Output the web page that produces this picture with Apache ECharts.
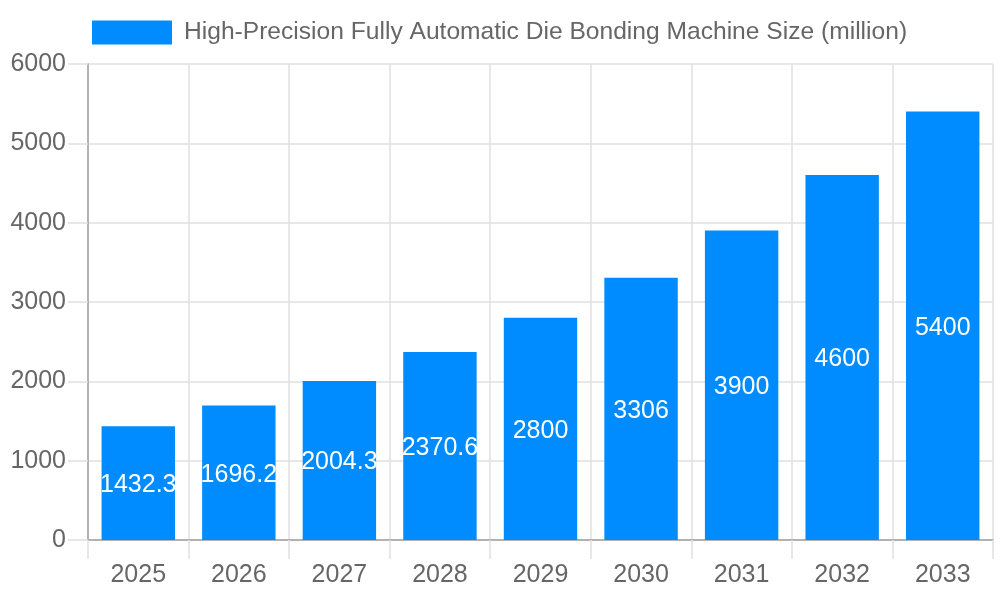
<!DOCTYPE html>
<html>
<head>
<meta charset="utf-8">
<script src="https://cdn.jsdelivr.net/npm/echarts@6/dist/echarts.min.js"></script>
<style>html,body{margin:0;padding:0;background:#fff}#c{width:1000px;height:600px}</style>
</head>
<body>
<div id="c"></div>
<script>
const categories = ['2025','2026','2027','2028','2029','2030','2031','2032','2033'];
const sizeValues = [1432.3, 1696.2, 2004.3, 2370.6, 2800, 3306, 3900, 4600, 5400];
const seriesName = 'High-Precision Fully Automatic Die Bonding Machine Size (million)';

const chart = echarts.init(document.getElementById('c'), null, {renderer: 'canvas'});
const font = 'Liberation Sans, Arial, sans-serif';
chart.setOption({
  animation: false,
  textStyle: {fontFamily: font},
  legend: {
    left: 92, top: 20, padding: 0,
    itemWidth: 80, itemHeight: 24, itemGap: 10,
    icon: 'rect',
    textStyle: {fontSize: 24.6, color: '#666', fontFamily: font, padding: [0,0,0,7]},
    data: [seriesName]
  },
  grid: {left: 88, right: 7, top: 64, bottom: 60, containLabel: false},
  xAxis: {
    type: 'category',
    data: categories,
    boundaryGap: true,
    axisLine: {show: true, lineStyle: {color: '#a0a0a0', width: 1.5}},
    axisTick: {show: true, length: 19, lineStyle: {color: '#e0e0e0', width: 1.5}},
    axisLabel: {fontSize: 25, color: '#666', margin: 23, fontFamily: font},
    splitLine: {show: true, lineStyle: {color: '#e0e0e0', width: 1.5}}
  },
  yAxis: {
    type: 'value',
    min: 0, max: 6000, interval: 1000,
    axisLine: {show: true, lineStyle: {color: '#a0a0a0', width: 1.5}},
    axisTick: {show: true, length: 20, lineStyle: {color: '#e0e0e0', width: 1.5}},
    axisLabel: {fontSize: 25, color: '#666', margin: 22, fontFamily: font, formatter: v => String(v)},
    splitLine: {show: true, lineStyle: {color: '#e0e0e0', width: 1.5}}
  },
  series: [{
    name: seriesName,
    type: 'bar',
    data: sizeValues,
    barCategoryGap: '27%',
    itemStyle: {color: '#008cff'},
    label: {show: true, position: 'inside', offset: [0, 2], color: '#fff', fontSize: 25, fontFamily: font}
  }]
});
</script>
</body>
</html>
